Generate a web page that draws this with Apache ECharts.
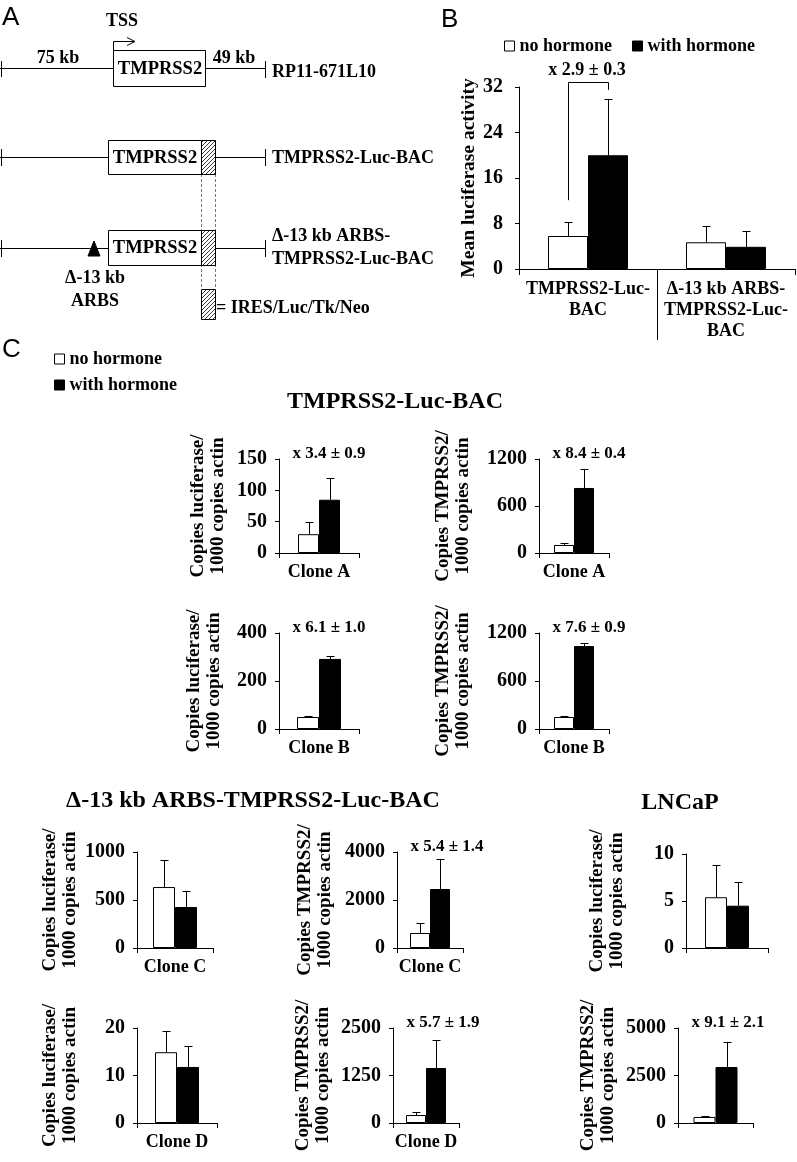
<!DOCTYPE html>
<html><head><meta charset="utf-8">
<script src="https://cdn.jsdelivr.net/npm/echarts@6/dist/echarts.min.js"></script>
<style>html,body{margin:0;padding:0;background:#fff}#chart{width:797px;height:1162px}</style>
</head><body><div id="chart"></div>
<script>
const FONT = '"Liberation Serif", "Times New Roman", serif';
const SANS = '"Liberation Sans", Arial, sans-serif';

// ---------- Panel B data ----------
const bCategories = ['TMPRSS2-Luc-\nBAC', 'Δ-13 kb ARBS-\nTMPRSS2-Luc-\nBAC'];
const bNoHormone = [5.8, 4.7];
const bNoHormoneErr = [2.5, 2.9];
const bWithHormone = [20.0, 3.9];
const bWithHormoneErr = [9.9, 2.8];
const bYMax = 32;
const bYInterval = 8;
const bBracket = [12.1, 32.9, 31.5]; // left leg bottom, bracket top, right leg bottom
const bFoldLabel = 'x 2.9 ± 0.3';

// ---------- Panel C data ----------
const cCategories = ['Clone A', 'Clone A', 'Clone B', 'Clone B', 'Clone C', 'Clone C', '', 'Clone D', 'Clone D', ''];
const cNoHormone = [30, 102, 50, 150, 635, 625, 5.4, 14.9, 210, 316];
const cNoHormoneErr = [19, 23, 4, 12, 282, 415, 3.4, 4.5, 80, 70];
const cWithHormone = [85, 830, 292, 1037, 427, 2458, 4.5, 11.8, 1447, 2947];
const cWithHormoneErr = [35, 242, 12, 38, 167, 1250, 2.5, 4.4, 737, 1316];
const cYMax = [150, 1200, 400, 1200, 1000, 4000, 10, 20, 2500, 5000];
const cYInterval = [50, 600, 200, 600, 500, 2000, 5, 10, 1250, 2500];
const LUC = 'Copies luciferase/\n1000 copies actin';
const TMP = 'Copies TMPRSS2/\n1000 copies actin';
const cYTitles = [LUC, TMP, LUC, TMP, LUC, TMP, LUC, LUC, TMP, TMP];
const cFoldLabels = ['x 3.4 ± 0.9', 'x 8.4 ± 0.4', 'x 6.1 ± 1.0', 'x 7.6 ± 0.9', '', 'x 5.4 ± 1.4', '', '', 'x 5.7 ± 1.9', 'x 9.1 ± 2.1'];
const seriesNames = ['no hormone', 'with hormone'];

// ---------- layout (positions only) ----------
const layoutB = {left: 519, top: 87, width: 276, height: 182, barW: 40, nameGap: 37, nameSize: 19.5};
const layoutC = [
  {left: 279, top: 459, width: 80, height: 94, barW: 21, nameGap: 51},
  {left: 539, top: 459, width: 70, height: 94, barW: 20, nameGap: 66},
  {left: 279, top: 633, width: 80, height: 96, barW: 22, nameGap: 55},
  {left: 539, top: 633, width: 70, height: 96, barW: 20, nameGap: 66},
  {left: 137, top: 852, width: 76, height: 96, barW: 22, nameGap: 57},
  {left: 397, top: 852, width: 66, height: 96, barW: 20, nameGap: 62},
  {left: 686, top: 854, width: 82, height: 94, barW: 22, nameGap: 59},
  {left: 137, top: 1028, width: 80, height: 95, barW: 22, nameGap: 57},
  {left: 393, top: 1028, width: 66, height: 95, barW: 20, nameGap: 60},
  {left: 678, top: 1028, width: 75, height: 95, barW: 22, nameGap: 60}
];

const BLACK = '#000';
const whiteStyle = {color: '#fff', borderColor: BLACK, borderWidth: 1};
const blackStyle = {color: BLACK, borderColor: BLACK, borderWidth: 1};
const boldText = (size) => ({fontFamily: FONT, fontWeight: 'bold', fontSize: size, color: BLACK});

function errorRenderer(barW) {
  return function (params, api) {
    const x = api.value(0), v = api.value(1), e = api.value(2), side = api.value(3);
    const base = api.coord([x, v]);
    const top = api.coord([x, v + e]);
    const cx = Math.round(base[0] + side * barW / 2) + 0.5;
    const ty = Math.round(top[1]) + 0.5;
    return {type: 'group', children: [
      {type: 'line', shape: {x1: cx, y1: base[1], x2: cx, y2: ty}, style: {stroke: BLACK, lineWidth: 1}},
      {type: 'line', shape: {x1: cx - 4, y1: ty, x2: cx + 4, y2: ty}, style: {stroke: BLACK, lineWidth: 1}}
    ]};
  };
}

const grids = [], xAxes = [], yAxes = [], series = [], graphics = [];

function addPlot(idx, lay, cats, noVals, noErr, wVals, wErr, yMax, yInt, yName, tickLen) {
  grids.push({left: lay.left, top: lay.top, width: lay.width, height: lay.height, containLabel: false});
  xAxes.push({
    type: 'category', gridIndex: idx, data: cats, boundaryGap: true,
    axisLine: {lineStyle: {color: BLACK, width: 1}},
    axisTick: {show: true, length: tickLen, lineStyle: {color: BLACK}, interval: 0},
    axisLabel: Object.assign({interval: 0, margin: idx === 0 ? 10 : 9, lineHeight: 21}, boldText(18))
  });
  yAxes.push({
    type: 'value', gridIndex: idx, min: 0, max: yMax, interval: yInt,
    axisLine: {show: true, lineStyle: {color: BLACK, width: 1}},
    axisTick: {show: true, length: 4, lineStyle: {color: BLACK}},
    splitLine: {show: false},
    axisLabel: Object.assign({margin: idx === 0 ? 16 : 12, formatter: (v) => String(v)}, boldText(20)),
    name: yName, nameLocation: 'middle', nameRotate: 90, nameGap: lay.nameGap,
    nameTextStyle: Object.assign({lineHeight: 20}, boldText(lay.nameSize || 19))
  });
  series.push({
    type: 'bar', name: seriesNames[0], xAxisIndex: idx, yAxisIndex: idx, data: noVals,
    barWidth: lay.barW, barGap: '0%', itemStyle: whiteStyle, silent: true
  });
  series.push({
    type: 'bar', name: seriesNames[1], xAxisIndex: idx, yAxisIndex: idx, data: wVals,
    barWidth: lay.barW, barGap: '0%', itemStyle: blackStyle, silent: true
  });
  const errData = [];
  noVals.forEach((v, i) => errData.push([i, v, noErr[i], -1]));
  wVals.forEach((v, i) => errData.push([i, v, wErr[i], 1]));
  series.push({
    type: 'custom', name: 'err' + idx, xAxisIndex: idx, yAxisIndex: idx, data: errData,
    encode: {x: 0, y: 1}, renderItem: errorRenderer(lay.barW), silent: true, z: 5
  });
}

// Panel B
addPlot(0, layoutB, bCategories, bNoHormone, bNoHormoneErr, bWithHormone, bWithHormoneErr, bYMax, bYInterval, 'Mean luciferase activity', 6);
// separator tick between the two constructs
series.push({
  type: 'custom', name: 'sep', xAxisIndex: 0, yAxisIndex: 0, data: [[0, 0]], encode: {x: 0, y: 1}, silent: true,
  renderItem: function (params, api) {
    const c = api.coord([0, 0]);
    const bw = api.size([1, 0])[0];
    const x = Math.round(c[0] + bw / 2) + 0.5;
    return {type: 'line', shape: {x1: x, y1: c[1], x2: x, y2: c[1] + 71}, style: {stroke: BLACK, lineWidth: 1}};
  }
});
// bracket
series.push({
  type: 'custom', name: 'bracket', xAxisIndex: 0, yAxisIndex: 0, data: [[0, bBracket[0], bBracket[1], bBracket[2]]],
  encode: {x: 0, y: 1}, silent: true,
  renderItem: function (params, api) {
    const pL = api.coord([0, api.value(1)]);
    const pT = api.coord([0, api.value(2)]);
    const pR = api.coord([0, api.value(3)]);
    const w = layoutB.barW;
    const xl = Math.round(pL[0] - w / 2) + 0.5, xr = Math.round(pL[0] + w / 2) + 0.5;
    const yt = Math.round(pT[1]) + 0.5;
    return {type: 'polyline', shape: {points: [[xl, pL[1]], [xl, yt], [xr, yt], [xr, pR[1]]]}, style: {stroke: BLACK, lineWidth: 1, fill: null}};
  }
});
graphics.push({type: 'text', style: {text: bFoldLabel, x: 587, y: 70, textAlign: 'center', textVerticalAlign: 'middle', font: 'bold 18px ' + FONT, fill: BLACK}});

// Panel C
layoutC.forEach((lay, i) => {
  addPlot(i + 1, lay, [cCategories[i]], [cNoHormone[i]], [cNoHormoneErr[i]], [cWithHormone[i]], [cWithHormoneErr[i]], cYMax[i], cYInterval[i], cYTitles[i], 5);
  if (cFoldLabels[i]) {
    graphics.push({type: 'text', style: {text: cFoldLabels[i], x: lay.left + 50, y: lay.top - 5, textAlign: 'center', textVerticalAlign: 'middle', font: 'bold 17px ' + FONT, fill: BLACK}});
  }
});

// ---------- Panel A schematic ----------
const pc = document.createElement('canvas');
pc.width = 4; pc.height = 4;
const pctx = pc.getContext('2d');
pctx.strokeStyle = '#222'; pctx.lineWidth = 0.9;
pctx.beginPath();
pctx.moveTo(0, 4); pctx.lineTo(4, 0);
pctx.moveTo(-1, 1); pctx.lineTo(1, -1);
pctx.moveTo(3, 5); pctx.lineTo(5, 3);
pctx.stroke();
const hatch = {image: pc, repeat: 'repeat'};

function L(x1, y1, x2, y2, extra) {
  graphics.push({type: 'line', shape: {x1, y1, x2, y2}, style: Object.assign({stroke: BLACK, lineWidth: 1}, extra || {})});
}
function R(x, y, w, h, fill) {
  graphics.push({type: 'rect', shape: {x: x + 0.5, y: y + 0.5, width: w, height: h}, style: {fill: fill || '#fff', stroke: BLACK, lineWidth: 1}});
}
function T(text, x, y, size, align, font) {
  graphics.push({type: 'text', style: {text, x, y, textAlign: align || 'center', textVerticalAlign: 'middle', font: (font || ('bold ' + size + 'px ' + FONT)), fill: BLACK}});
}

// panel letters
T('A', 2, 18, 0, 'left', '26px ' + SANS);
T('B', 441, 20, 0, 'left', '26px ' + SANS);
T('C', 2, 350, 0, 'left', '26px ' + SANS);

// row 1 : RP11-671L10
L(0, 68.5, 113, 68.5); L(205, 68.5, 265, 68.5);
L(1.5, 61, 1.5, 77); L(265.5, 61, 265.5, 78);
R(113, 50, 92, 36);
T('TMPRSS2', 160, 69, 18.5);
T('75 kb', 58, 58, 18); T('49 kb', 234, 58, 18);
T('RP11-671L10', 272, 72, 18, 'left');
T('TSS', 122, 21, 18);
L(113.5, 50, 113.5, 41.5); L(113.5, 41.5, 135, 41.5);
L(127, 37.5, 135, 41.5); L(127, 45.5, 135, 41.5);

// dashed guides
L(201.5, 174, 201.5, 289, {stroke: '#777', lineDash: [3, 2]});
L(215.5, 174, 215.5, 289, {stroke: '#777', lineDash: [3, 2]});

// row 2 : TMPRSS2-Luc-BAC
L(0, 157.5, 108, 157.5); L(215, 157.5, 265, 157.5);
L(1.5, 149, 1.5, 166); L(265.5, 149, 265.5, 166);
R(108, 140, 93, 34);
R(201, 140, 14, 34, hatch);
T('TMPRSS2', 155, 158, 18.5);
T('TMPRSS2-Luc-BAC', 272, 158, 18, 'left');

// row 3 : Δ-13 kb ARBS construct
L(0, 248.5, 108, 248.5); L(215, 248.5, 265, 248.5);
L(1.5, 240, 1.5, 257); L(265.5, 240, 265.5, 257);
R(108, 230, 93, 35);
R(201, 230, 14, 35, hatch);
T('TMPRSS2', 155, 248, 18.5);
graphics.push({type: 'polygon', shape: {points: [[94, 241], [88, 256], [100, 256]]}, style: {fill: BLACK, stroke: BLACK}});
T('Δ-13 kb', 95, 278, 18); T('ARBS', 95, 301, 18);
T('Δ-13 kb ARBS-', 272, 236, 18, 'left');
T('TMPRSS2-Luc-BAC', 272, 259, 18, 'left');

// hatched legend
R(201, 289, 14, 30, hatch);
T('= IRES/Luc/Tk/Neo', 216, 308, 18, 'left');

// section titles in C
T('TMPRSS2-Luc-BAC', 395, 402, 24);
T('Δ-13 kb ARBS-TMPRSS2-Luc-BAC', 253, 801, 24);
T('LNCaP', 680, 803, 24);

const legendData = [
  {name: seriesNames[0], itemStyle: whiteStyle},
  {name: seriesNames[1], itemStyle: blackStyle}
];

const option = {
  animation: false,
  backgroundColor: '#fff',
  textStyle: {fontFamily: FONT},
  legend: [
    {data: legendData, left: 499, top: 32, icon: 'rect', itemWidth: 10, itemHeight: 10, itemGap: 20,
     selectedMode: false, textStyle: boldText(18)},
    {data: legendData, left: 49, top: 345, orient: 'vertical', icon: 'rect', itemWidth: 10, itemHeight: 10, itemGap: 8,
     selectedMode: false, textStyle: boldText(18)}
  ],
  grid: grids,
  xAxis: xAxes,
  yAxis: yAxes,
  series: series,
  graphic: graphics
};

const chart = echarts.init(document.getElementById('chart'), null, {renderer: 'canvas'});
chart.setOption(option);
</script>
</body></html>
